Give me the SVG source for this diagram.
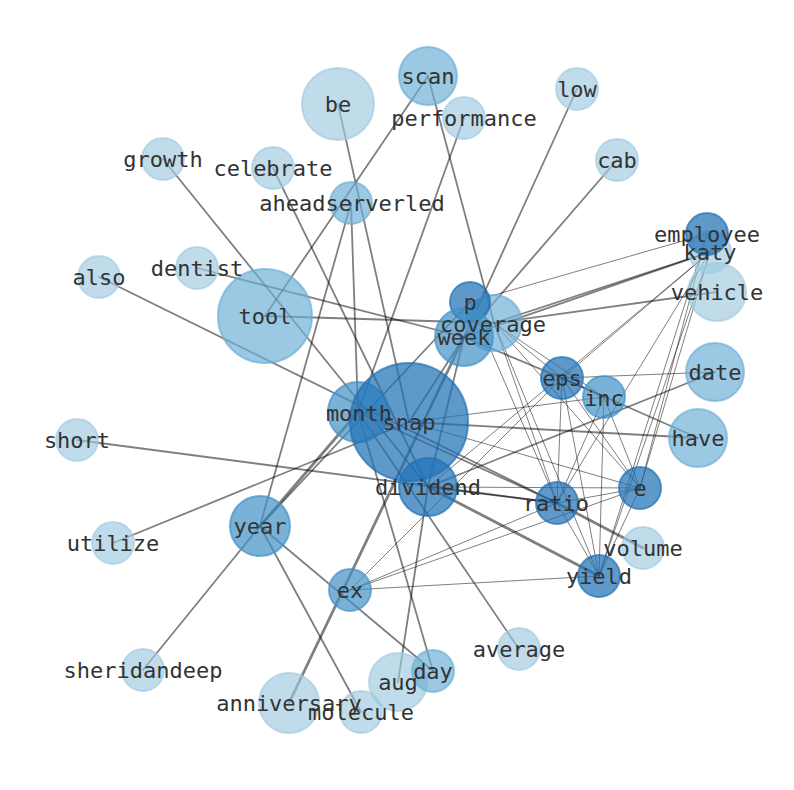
<svg xmlns="http://www.w3.org/2000/svg" width="794" height="790" viewBox="0 0 794 790">
<style>
.edges line{stroke:#000;stroke-opacity:.5;stroke-linecap:round}
.t{stroke-width:1}
.m{stroke-width:1.8}
.k{stroke-width:2.8}
circle{stroke-width:2}
.l1{fill:#9ecae1;stroke:#9ecae1;fill-opacity:.65;stroke-opacity:.65}
.l2{fill:#6baed6;stroke:#6baed6;fill-opacity:.68;stroke-opacity:.68}
.l3{fill:#4292c6;stroke:#4292c6;fill-opacity:.7;stroke-opacity:.7}
.l4{fill:#2171b5;stroke:#2171b5;fill-opacity:.72;stroke-opacity:.72}
.labels text{font-family:"DejaVu Sans Mono","Liberation Mono",monospace;font-size:22px;fill:#333;text-anchor:middle}
</style>
<rect width="794" height="790" fill="#fff"/>
<g id="connectors" class="edges">
<line class="m" x1="428" y1="76" x2="265" y2="316"/>
<line class="m" x1="428" y1="76" x2="494" y2="323"/>
<line class="m" x1="338" y1="104" x2="409" y2="422"/>
<line class="m" x1="577" y1="89" x2="464" y2="337"/>
<line class="m" x1="617" y1="160" x2="464" y2="337"/>
<line class="m" x1="464" y1="118" x2="358" y2="412"/>
<line class="m" x1="163" y1="159" x2="428" y2="487"/>
<line class="m" x1="273" y1="168" x2="428" y2="487"/>
<line class="m" x1="351" y1="203" x2="260" y2="526"/>
<line class="m" x1="351" y1="203" x2="358" y2="412"/>
<line class="m" x1="99" y1="277" x2="557" y2="503"/>
<line class="m" x1="197" y1="268" x2="464" y2="337"/>
<line class="m" x1="265" y1="316" x2="494" y2="323"/>
<line class="m" x1="77" y1="440" x2="557" y2="503"/>
<line class="m" x1="113" y1="543" x2="409" y2="422"/>
<line class="k" x1="260" y1="526" x2="358" y2="412"/>
<line class="m" x1="260" y1="526" x2="470" y2="302"/>
<line class="m" x1="260" y1="526" x2="143" y2="670"/>
<line class="m" x1="260" y1="526" x2="433" y2="671"/>
<line class="m" x1="260" y1="526" x2="361" y2="712"/>
<line class="k" x1="289" y1="703" x2="464" y2="337"/>
<line class="m" x1="358" y1="412" x2="433" y2="671"/>
<line class="m" x1="358" y1="412" x2="519" y2="649"/>
<line class="m" x1="358" y1="412" x2="557" y2="503"/>
<line class="m" x1="428" y1="487" x2="398" y2="682"/>
<line class="m" x1="428" y1="487" x2="715" y2="372"/>
<line class="k" x1="428" y1="487" x2="599" y2="576"/>
<line class="m" x1="428" y1="487" x2="557" y2="503"/>
<line class="t" x1="428" y1="487" x2="640" y2="488"/>
<line class="m" x1="409" y1="422" x2="698" y2="438"/>
<line class="t" x1="409" y1="422" x2="604" y2="397"/>
<line class="t" x1="409" y1="422" x2="640" y2="488"/>
<line class="m" x1="409" y1="422" x2="464" y2="337"/>
<line class="k" x1="557" y1="503" x2="643" y2="548"/>
<line class="m" x1="562" y1="378" x2="698" y2="438"/>
<line class="t" x1="562" y1="378" x2="715" y2="372"/>
<line class="m" x1="464" y1="337" x2="562" y2="378"/>
<line class="m" x1="494" y1="323" x2="717" y2="292"/>
<line class="m" x1="710" y1="252" x2="494" y2="323"/>
<line class="m" x1="710" y1="252" x2="464" y2="337"/>
<line class="t" x1="707" y1="234" x2="470" y2="302"/>
<line class="t" x1="710" y1="252" x2="562" y2="378"/>
<line class="t" x1="710" y1="252" x2="557" y2="503"/>
<line class="t" x1="710" y1="252" x2="640" y2="488"/>
<line class="t" x1="707" y1="234" x2="640" y2="488"/>
<line class="t" x1="710" y1="252" x2="599" y2="576"/>
<line class="t" x1="707" y1="234" x2="599" y2="576"/>
<line class="t" x1="710" y1="252" x2="428" y2="487"/>
<line class="t" x1="350" y1="590" x2="557" y2="503"/>
<line class="t" x1="350" y1="590" x2="640" y2="488"/>
<line class="t" x1="350" y1="590" x2="562" y2="378"/>
<line class="t" x1="350" y1="590" x2="599" y2="576"/>
<line class="m" x1="562" y1="378" x2="604" y2="397"/>
<line class="t" x1="562" y1="378" x2="557" y2="503"/>
<line class="t" x1="562" y1="378" x2="640" y2="488"/>
<line class="t" x1="562" y1="378" x2="599" y2="576"/>
<line class="t" x1="604" y1="397" x2="557" y2="503"/>
<line class="t" x1="604" y1="397" x2="640" y2="488"/>
<line class="t" x1="604" y1="397" x2="599" y2="576"/>
<line class="t" x1="557" y1="503" x2="640" y2="488"/>
<line class="t" x1="557" y1="503" x2="599" y2="576"/>
<line class="t" x1="640" y1="488" x2="599" y2="576"/>
<line class="t" x1="494" y1="323" x2="562" y2="378"/>
<line class="t" x1="494" y1="323" x2="604" y2="397"/>
<line class="t" x1="494" y1="323" x2="640" y2="488"/>
<line class="t" x1="494" y1="323" x2="557" y2="503"/>
<line class="t" x1="494" y1="323" x2="599" y2="576"/>
<line class="t" x1="470" y1="302" x2="557" y2="503"/>
<line class="m" x1="464" y1="337" x2="428" y2="487"/>
</g>
<g id="nodes">
<g id="node-scan"><circle class="l2" cx="428" cy="76" r="29"/></g>
<g id="node-be"><circle class="l1" cx="338" cy="104" r="36"/></g>
<g id="node-low"><circle class="l1" cx="577" cy="89" r="21"/></g>
<g id="node-performance"><circle class="l1" cx="464" cy="118" r="21"/></g>
<g id="node-cab"><circle class="l1" cx="617" cy="160" r="21"/></g>
<g id="node-growth"><circle class="l1" cx="163" cy="159" r="21"/></g>
<g id="node-celebrate"><circle class="l1" cx="273" cy="168" r="21"/></g>
<g id="node-aheadserverled"><circle class="l2" cx="351" cy="203" r="21"/></g>
<g id="node-katy"><circle class="l1" cx="710" cy="252" r="21"/></g>
<g id="node-employee"><circle class="l4" cx="707" cy="234" r="21"/></g>
<g id="node-vehicle"><circle class="l1" cx="717" cy="292" r="29"/></g>
<g id="node-also"><circle class="l1" cx="99" cy="277" r="21"/></g>
<g id="node-dentist"><circle class="l1" cx="197" cy="268" r="21"/></g>
<g id="node-tool"><circle class="l2" cx="265" cy="316" r="47"/></g>
<g id="node-coverage"><circle class="l2" cx="494" cy="323" r="28"/></g>
<g id="node-p"><circle class="l4" cx="470" cy="302" r="20"/></g>
<g id="node-week"><circle class="l3" cx="464" cy="337" r="29"/></g>
<g id="node-eps"><circle class="l4" cx="562" cy="378" r="21"/></g>
<g id="node-inc"><circle class="l3" cx="604" cy="397" r="21"/></g>
<g id="node-date"><circle class="l2" cx="715" cy="372" r="29"/></g>
<g id="node-have"><circle class="l2" cx="698" cy="438" r="29"/></g>
<g id="node-month"><circle class="l3" cx="358" cy="412" r="30"/></g>
<g id="node-snap"><circle class="l4" cx="409" cy="422" r="59"/></g>
<g id="node-dividend"><circle class="l4" cx="428" cy="487" r="29"/></g>
<g id="node-ratio"><circle class="l4" cx="557" cy="503" r="21"/></g>
<g id="node-e"><circle class="l4" cx="640" cy="488" r="21"/></g>
<g id="node-short"><circle class="l1" cx="77" cy="440" r="21"/></g>
<g id="node-year"><circle class="l3" cx="260" cy="526" r="30"/></g>
<g id="node-utilize"><circle class="l1" cx="113" cy="543" r="21"/></g>
<g id="node-volume"><circle class="l1" cx="643" cy="548" r="21"/></g>
<g id="node-yield"><circle class="l4" cx="599" cy="576" r="21"/></g>
<g id="node-ex"><circle class="l3" cx="350" cy="590" r="21"/></g>
<g id="node-average"><circle class="l1" cx="519" cy="649" r="21"/></g>
<g id="node-sheridandeep"><circle class="l1" cx="143" cy="670" r="21"/></g>
<g id="node-aug"><circle class="l1" cx="398" cy="682" r="29"/></g>
<g id="node-day"><circle class="l2" cx="433" cy="671" r="21"/></g>
<g id="node-anniversary"><circle class="l1" cx="289" cy="703" r="30"/></g>
<g id="node-molecule"><circle class="l1" cx="361" cy="712" r="21"/></g>
</g>
<g id="labels" class="labels">
<text x="428" y="84">scan</text>
<text x="338" y="112">be</text>
<text x="577" y="97">low</text>
<text x="464" y="126">performance</text>
<text x="617" y="168">cab</text>
<text x="163" y="167">growth</text>
<text x="273" y="176">celebrate</text>
<text x="352" y="211">aheadserverled</text>
<text x="707" y="242">employee</text>
<text x="710" y="260">katy</text>
<text x="717" y="300">vehicle</text>
<text x="99" y="285">also</text>
<text x="197" y="276">dentist</text>
<text x="265" y="324">tool</text>
<text x="470" y="310">p</text>
<text x="493" y="332">coverage</text>
<text x="464" y="345">week</text>
<text x="562" y="386">eps</text>
<text x="604" y="406">inc</text>
<text x="715" y="380">date</text>
<text x="698" y="446">have</text>
<text x="359" y="421">month</text>
<text x="409" y="430">snap</text>
<text x="428" y="495">dividend</text>
<text x="556" y="511">ratio</text>
<text x="640" y="496">e</text>
<text x="77" y="448">short</text>
<text x="260" y="534">year</text>
<text x="113" y="551">utilize</text>
<text x="643" y="556">volume</text>
<text x="599" y="584">yield</text>
<text x="350" y="598">ex</text>
<text x="519" y="657">average</text>
<text x="143" y="678">sheridandeep</text>
<text x="398" y="690">aug</text>
<text x="433" y="679">day</text>
<text x="289" y="711">anniversary</text>
<text x="361" y="720">molecule</text>
</g>
</svg>
